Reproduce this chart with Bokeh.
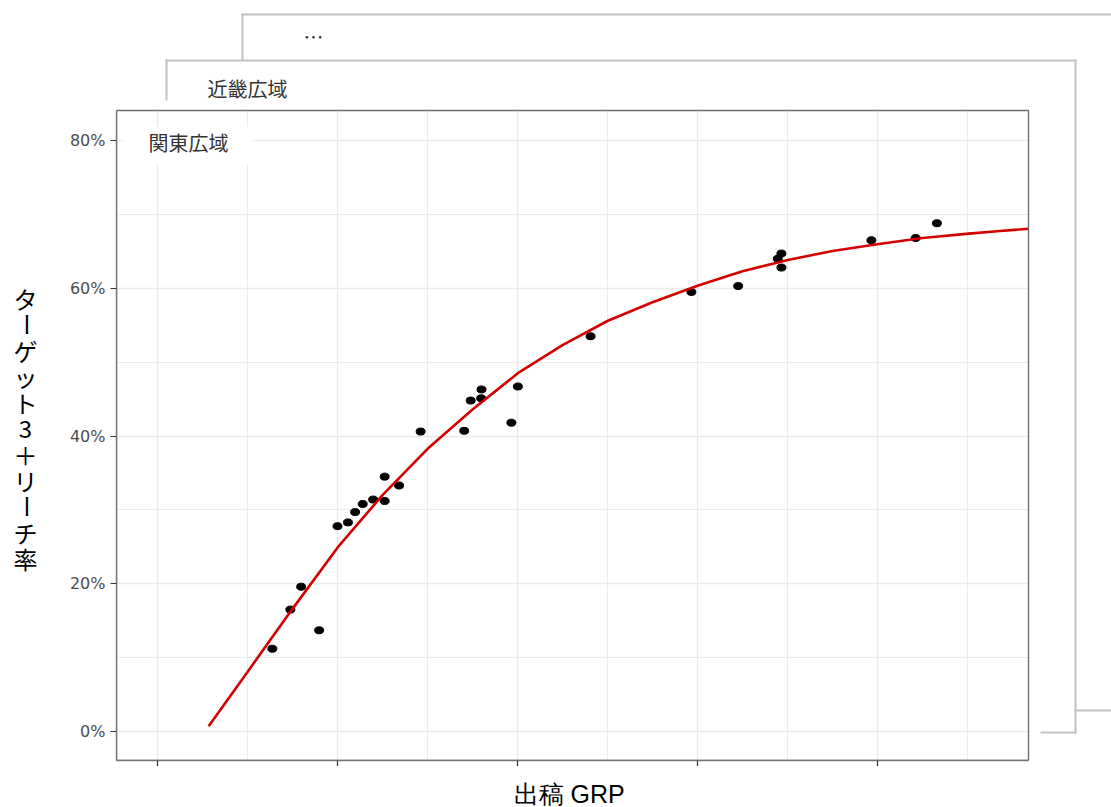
import math
from bokeh.plotting import figure
from bokeh.layouts import row, column
from bokeh.models import (Range1d, FixedTicker, PrintfTickFormatter,
                          CustomJSTickFormatter, Label, BoxAnnotation)
from bokeh.embed import file_html
from bokeh.resources import INLINE

# ---------------- data ----------------
grp = [319, 369, 399, 449, 500, 529, 549, 570, 599, 631, 631, 671, 731,
       852, 870, 900, 899, 983, 1001, 1203, 1483, 1613, 1723, 1733, 1733,
       1983, 2106, 2165]
reach = [11.2, 16.5, 19.6, 13.7, 27.8, 28.3, 29.7, 30.8, 31.4, 34.5, 31.2,
         33.3, 40.6, 40.7, 44.8, 46.3, 45.1, 41.8, 46.7, 53.5, 59.5, 60.3,
         64.0, 64.7, 62.8, 66.5, 66.8, 68.8]

fit_grp = [142, 249, 375, 501, 625, 751, 875, 1001, 1125, 1251, 1375, 1504,
           1625, 1754, 1875, 2004, 2125, 2254, 2340, 2420]
fit_reach = [0.7, 8.0, 16.6, 24.95, 32.0, 38.3, 43.6, 48.5, 52.3, 55.6,
             58.1, 60.4, 62.3, 63.85, 65.05, 66.0, 66.8, 67.4, 67.75, 68.05]

x_ticks = [0, 500, 1000, 1500, 2000]
x_minor = [250, 750, 1250, 1750, 2250]
y_ticks = [0, 20, 40, 60, 80]
y_minor = [10, 30, 50, 70]

panel_titles = ["関東広域", "近畿広域", "…"]
x_title = "出稿 GRP"
y_title = "ターゲット3＋リーチ率"

# ---------------- layout (picture pixels) ----------------
TOTAL_W, TOTAL_H = 1111, 807
YT_W = 56                      # strip holding the vertical y title
FL, FR, FT, FB = 116, 1028, 110, 760   # front panel box
TICK = 6
X0_PX, X_PPU = 157, 0.36       # px of GRP 0, px per GRP unit
Y0_PX, Y_PPU = 731, 7.3875     # px of 0 %, px per %


def dx(px):
    return (px - X0_PX) / X_PPU


def dy(py):
    return (Y0_PX - py) / Y_PPU


XS, XE = dx(FL), dx(TOTAL_W)
YS, YE = dy(FB), dy(0)
MX1, MY1 = dx(FR), dy(FT)

main_w = TOTAL_W - YT_W
main_h = FB + TICK

p = figure(width=main_w, height=main_h, output_backend="svg",
           toolbar_location=None,
           x_range=Range1d(XS, XE), y_range=Range1d(YS, YE),
           min_border_left=FL - YT_W, min_border_top=0,
           min_border_right=0, min_border_bottom=TICK)
p.background_fill_color = "white"
p.border_fill_color = "white"
p.outline_line_color = None

AX = "#7a7a7a"
for ax in (p.xaxis[0], p.yaxis[0]):
    ax.axis_line_color = AX
    ax.axis_line_width = 1.4
    ax.major_tick_line_color = "#333333"
    ax.major_tick_line_width = 1.2
    ax.major_tick_out = TICK
    ax.major_tick_in = 0
    ax.minor_tick_line_color = None
    ax.major_label_text_font = "DejaVu Sans"
    ax.major_label_text_font_size = "16px"
    ax.major_label_text_color = "#4d4d4d"

p.xaxis.ticker = FixedTicker(ticks=x_ticks, minor_ticks=x_minor)
p.xaxis.formatter = CustomJSTickFormatter(code="return ''")
p.xaxis.major_label_text_font_size = "0px"
p.xaxis.major_label_standoff = 0
p.xaxis.bounds = (XS, MX1)
p.yaxis.ticker = FixedTicker(ticks=y_ticks, minor_ticks=y_minor)
p.yaxis.formatter = PrintfTickFormatter(format="%d%%")
p.yaxis.major_label_standoff = 5
p.yaxis.bounds = (YS, MY1)

for g in (p.xgrid[0], p.ygrid[0]):
    g.grid_line_color = "#ebebeb"
    g.grid_line_width = 1.3
    g.minor_grid_line_color = "#ebebeb"
    g.minor_grid_line_width = 1.0
p.xgrid[0].cross_bounds = (YS, MY1)
p.ygrid[0].cross_bounds = (XS, MX1)

# data marks
p.ellipse(grp, reach, width=9, height=7, width_units="screen",
          height_units="screen", fill_color="black", line_color="black")
p.line(fit_grp, fit_reach, line_color="#d40000", line_width=2.6)

# front panel border
p.add_layout(BoxAnnotation(left=XS, right=MX1, bottom=YS, top=MY1,
                           fill_alpha=0, line_color="#6e6e6e", line_alpha=1,
                           line_width=1.4))

# background panels (stacked cards): only their visible edges
CARD = "#c2c2c2"


def hline(x0, x1, y, w=2.0):
    p.add_layout(BoxAnnotation(left=dx(x0), right=dx(x1), top=dy(y - w / 2),
                               bottom=dy(y + w / 2), fill_color=CARD,
                               fill_alpha=1, line_color=None))


def vline(x, y0, y1, w=2.0):
    p.add_layout(BoxAnnotation(left=dx(x - w / 2), right=dx(x + w / 2),
                               top=dy(y0), bottom=dy(y1), fill_color=CARD,
                               fill_alpha=1, line_color=None))


hline(241, TOTAL_W + 5, 14)       # back card
vline(242, 13, 60)
hline(1074, TOTAL_W + 5, 710)
hline(165, 1076, 60)              # middle card
vline(166, 59, 100)
vline(1075, 59, 733)
hline(1040, 1076, 732)

# white box behind the front panel title
p.add_layout(BoxAnnotation(left=dx(123), right=dx(252), top=dy(126),
                           bottom=dy(163), fill_color="white", fill_alpha=1,
                           line_color=None))

title_pos = [(188, 142), (247, 88), (313, 36)]
for t, (tx, ty) in zip(panel_titles, title_pos):
    p.add_layout(Label(x=dx(tx), y=dy(ty), text=t, text_align="center",
                       text_baseline="middle", text_font="Noto Sans CJK JP",
                       text_font_size="20px", text_color="#333333"))

# ---------------- y title strip ----------------
yt = figure(width=YT_W, height=TOTAL_H, output_backend="svg",
            toolbar_location=None, x_axis_type=None, y_axis_type=None,
            x_range=Range1d(0, YT_W), y_range=Range1d(TOTAL_H, 0),
            min_border=0, outline_line_color=None)
yt.background_fill_color = "white"
yt.border_fill_color = "white"
for i, ch in enumerate(y_title):
    yt.add_layout(Label(x=25, y=298 + 26 * i, text=ch,
                        text_align="center", text_baseline="middle",
                        angle=(math.pi / 2 if ch == "ー" else 0),
                        text_font="Noto Sans CJK JP", text_font_size="24px",
                        text_color="black"))

# ---------------- x title strip ----------------
# (its frame is aligned with the main frame by the column layout)
xt_h = TOTAL_H - main_h
xt = figure(width=main_w, height=xt_h, output_backend="svg",
            toolbar_location=None, x_axis_type=None, y_axis_type=None,
            x_range=Range1d(FL, TOTAL_W), y_range=Range1d(TOTAL_H, main_h),
            min_border=0, outline_line_color=None)
xt.background_fill_color = "white"
xt.border_fill_color = "white"
xt.add_layout(Label(x=513, y=793, text=x_title, text_align="left",
                    text_baseline="middle", text_font="Liberation Sans",
                    text_font_size="25px", text_color="black"))

layout = row(yt, column(p, xt))
open("out.html", "w").write(file_html(layout, INLINE))
